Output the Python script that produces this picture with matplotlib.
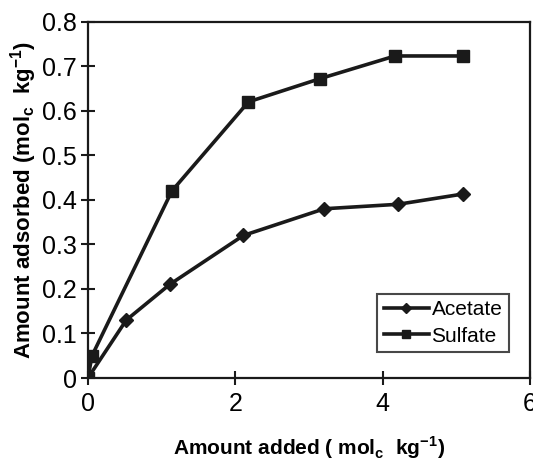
import matplotlib
matplotlib.use("Agg")
import matplotlib.pyplot as plt

plt.rcParams['font.family'] = ['Liberation Sans', 'DejaVu Sans']
plt.rcParams['mathtext.fontset'] = 'custom'
plt.rcParams['mathtext.rm'] = 'Liberation Sans'
plt.rcParams['mathtext.bf'] = 'Liberation Sans:bold'

# data
acetate_x = [0, 0.52, 1.11, 2.11, 3.21, 4.21, 5.09]
acetate_y = [0, 0.13, 0.21, 0.32, 0.38, 0.39, 0.413]
sulfate_x = [0, 0.055, 1.14, 2.18, 3.15, 4.17, 5.09]
sulfate_y = [0, 0.05, 0.42, 0.62, 0.672, 0.723, 0.723]

xticks = [0, 2, 4, 6]
yticks = [0, 0.1, 0.2, 0.3, 0.4, 0.5, 0.6, 0.7, 0.8]
ytick_labels = ['0', '0.1', '0.2', '0.3', '0.4', '0.5', '0.6', '0.7', '0.8']

fig = plt.figure(figsize=(5.33, 4.61), dpi=100)
ax = fig.add_axes([0.165, 0.18, 0.829, 0.773])

ax.plot(acetate_x, acetate_y, color='#1a1a1a', lw=2.6, marker='D', ms=7,
        label='Acetate')
ax.plot(sulfate_x, sulfate_y, color='#1a1a1a', lw=2.6, marker='s', ms=8,
        label='Sulfate')

ax.set_xlim(0, 6)
ax.set_ylim(0, 0.8)
ax.set_xticks(xticks)
ax.set_xticklabels([str(t) for t in xticks])
ax.set_yticks(yticks)
ax.set_yticklabels(ytick_labels)
ax.tick_params(axis='both', direction='inout', length=10, width=1.5,
               labelsize=18, color='#1a1a1a')
ax.tick_params(axis='x', pad=5)
ax.tick_params(axis='y', pad=3)

for s in ax.spines.values():
    s.set_linewidth(1.6)
    s.set_color('#1a1a1a')

ax.set_xlabel(r'Amount added ( mol$_\mathbf{c}$  kg$^\mathbf{-1}$)',
              fontsize=15, fontweight='bold', labelpad=13)
ax.set_ylabel(r'Amount adsorbed (mol$_\mathbf{c}$  kg$^\mathbf{-1}$)',
              fontsize=16, fontweight='bold', labelpad=2)

leg = ax.legend(loc='lower right', bbox_to_anchor=(0.952, 0.073),
                fontsize=15, frameon=True, fancybox=False, markerscale=0.8,
                handlelength=2.2, handletextpad=0.1, borderpad=0.3,
                labelspacing=0.35, borderaxespad=0)
leg.get_frame().set_edgecolor('#1a1a1a')
leg.get_frame().set_linewidth(1.5)

fig.savefig('out.png', dpi=100)
